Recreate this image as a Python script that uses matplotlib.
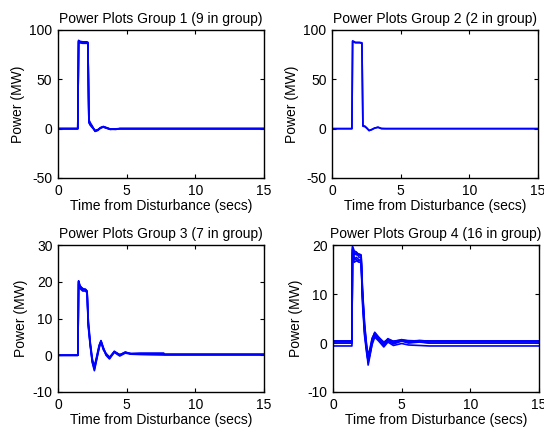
import matplotlib
matplotlib.use("Agg")
import matplotlib.pyplot as plt

plt.rcParams["font.family"] = ["Liberation Sans", "DejaVu Sans"]
plt.rcParams["font.size"] = 10
plt.rcParams["axes.unicode_minus"] = False

# group 1 - 9 units (a few representative traces)
t_g1 = [0, 1.44, 1.50, 1.60, 1.80, 2.10, 2.18, 2.25, 2.35, 2.50, 2.70, 2.90, 3.10, 3.30, 3.50, 3.80, 4.20, 4.50, 15]
p_g1 = [
    [0, 0, 89.0, 88.0, 87.5, 87.5, 87.0, 8.0, 5.0, 2.0, -2.5, -1.5, 1.0, 2.0, 1.0, -0.5, -0.3, 0, 0],
    [0, 0, 88.5, 87.5, 87.0, 87.0, 86.5, 7.0, 4.0, 1.5, -2.0, -1.0, 1.0, 1.5, 0.8, -0.8, -0.5, 0, 0],
    [0, 0, 89.5, 88.5, 88.0, 88.0, 87.5, 9.0, 6.0, 2.5, -2.8, -1.8, 0.8, 2.2, 1.2, -0.3, -0.8, 0, 0],
    [0, 0, 88.0, 87.0, 86.5, 86.5, 86.0, 6.0, 3.5, 1.0, -1.8, -1.2, 0.5, 1.8, 0.6, -0.6, -0.2, 0, 0],
]

# group 2 - 2 units
t_g2 = [0, 1.45, 1.50, 1.70, 2.00, 2.18, 2.25, 2.40, 2.55, 2.70, 2.90, 3.10, 3.35, 3.60, 3.90, 15]
p_g2 = [
    [0, 0, 89.0, 87.5, 87.5, 87.0, 3.0, 2.5, 0.5, -2.0, -1.0, 0.5, 1.5, 0.2, 0, 0],
    [0, 0, 88.5, 87.0, 87.0, 86.5, 2.5, 2.0, 0.2, -1.8, -0.8, 0.6, 1.3, 0.0, 0, 0],
]

# group 3 - 7 units
t_g3 = [0, 1.45, 1.50, 1.60, 1.80, 2.00, 2.12, 2.20, 2.35, 2.50, 2.65, 2.80, 3.00, 3.13, 3.30, 3.50, 3.75, 4.10, 4.50, 4.90, 5.30, 6.00, 7.70, 7.75, 15]
p_g3 = [
    [0, 0, 20.3, 19.0, 18.0, 18.0, 17.5, 9.0, 3.0, -1.5, -3.5, -1.0, 2.5, 4.0, 2.0, 0.3, -0.7, 1.0, 0.0, 0.8, 0.4, 0.4, 0.4, 0.2, 0.2],
    [0, 0, 20.0, 18.5, 17.8, 17.8, 17.2, 8.0, 2.5, -2.0, -4.2, -1.5, 2.0, 3.6, 1.8, 0.0, -1.0, 0.8, -0.2, 0.6, 0.3, 0.2, 0.1, 0.1, 0.1],
    [0, 0, 19.5, 18.2, 17.5, 17.5, 17.0, 10.0, 3.5, -1.0, -3.0, -0.6, 2.8, 3.8, 1.5, 0.5, -0.5, 0.9, 0.2, 0.7, 0.5, 0.6, 0.6, 0.3, 0.3],
    [0, 0, 20.1, 18.8, 18.2, 17.9, 17.4, 8.5, 2.8, -1.8, -3.8, -1.2, 2.3, 3.9, 2.1, 0.2, -0.8, 1.1, 0.1, 0.9, 0.4, 0.3, 0.2, 0.2, 0.2],
]

# group 4 - 16 units
t_g4 = [0, 1.38, 1.42, 1.55, 1.70, 1.90, 2.05, 2.15, 2.30, 2.45, 2.56, 2.70, 2.85, 3.04, 3.30, 3.70, 4.00, 4.40, 5.00, 5.50, 6.30, 7.00, 15]
p_g4 = [
    [0.4, 0.4, 19.5, 18.0, 18.5, 17.5, 17.5, 10.0, 3.0, -1.0, -4.0, -2.0, 0.5, 2.0, 1.0, -0.3, 0.8, 0.1, 0.6, 0.3, 0.5, 0.4, 0.4],
    [0.0, 0.0, 19.0, 17.5, 17.0, 16.8, 17.0, 9.0, 2.0, -1.5, -4.5, -2.5, 0.0, 1.6, 0.8, -0.5, 0.5, -0.2, 0.4, 0.0, 0.2, 0.0, 0.0],
    [-0.6, -0.6, 18.5, 17.0, 17.5, 17.0, 16.8, 8.0, 1.5, -2.0, -3.5, -2.2, -0.3, 1.2, 0.5, -0.8, 0.2, -0.5, -0.1, -0.4, -0.5, -0.6, -0.6],
    [0.4, 0.4, 19.2, 18.5, 18.0, 18.2, 18.0, 11.0, 4.0, -0.5, -3.0, -1.5, 0.8, 2.2, 1.3, 0.0, 0.9, 0.3, 0.7, 0.4, 0.5, 0.4, 0.4],
    [0.0, 0.0, 18.0, 16.5, 16.8, 16.5, 16.5, 9.5, 2.5, -1.2, -3.8, -1.8, 0.3, 1.8, 0.9, -0.2, 0.6, 0.0, 0.5, 0.1, 0.3, 0.0, 0.0],
    [0.4, 0.4, 19.8, 18.8, 18.6, 18.0, 17.8, 10.5, 3.5, -0.8, -2.5, -1.0, 1.0, 2.0, 1.2, 0.2, 0.7, 0.4, 0.6, 0.5, 0.4, 0.4, 0.4],
]

titles = ["Power Plots Group 1 (9 in group)", "Power Plots Group 2 (2 in group)",
          "Power Plots Group 3 (7 in group)", "Power Plots Group 4 (16 in group)"]
ylims = [(-50, 100), (-50, 100), (-10, 30), (-10, 20)]
yticks = [[-50, 0, 50, 100], [-50, 0, 50, 100], [-10, 0, 10, 20, 30], [-10, 0, 10, 20]]
groups = [(t_g1, p_g1), (t_g2, p_g2), (t_g3, p_g3), (t_g4, p_g4)]

fig = plt.figure(figsize=(5.44, 4.32), dpi=100)
pos = [[0.1066, 0.588, 0.3787, 0.3426], [0.6103, 0.588, 0.3787, 0.3426],
       [0.1066, 0.0926, 0.3787, 0.340], [0.6121, 0.0926, 0.3787, 0.340]]

for i in range(4):
    ax = fig.add_axes(pos[i])
    t, rows = groups[i]
    for r in rows:
        ax.plot(t, r, color="#0000ff", lw=1.2)
    ax.set_xlim(0, 15)
    ax.set_ylim(*ylims[i])
    ax.set_xticks([0, 5, 10, 15])
    ax.set_yticks(yticks[i])
    ax.tick_params(direction="in", length=3, top=True, right=True, pad=4)
    for s in ax.spines.values():
        s.set_linewidth(1.0)
    ax.set_title(titles[i], fontsize=10, pad=5)
    ax.set_xlabel("Time from Disturbance (secs)", labelpad=1)
    ax.set_ylabel("Power (MW)", labelpad=3)

fig.savefig("out.png", dpi=100)
